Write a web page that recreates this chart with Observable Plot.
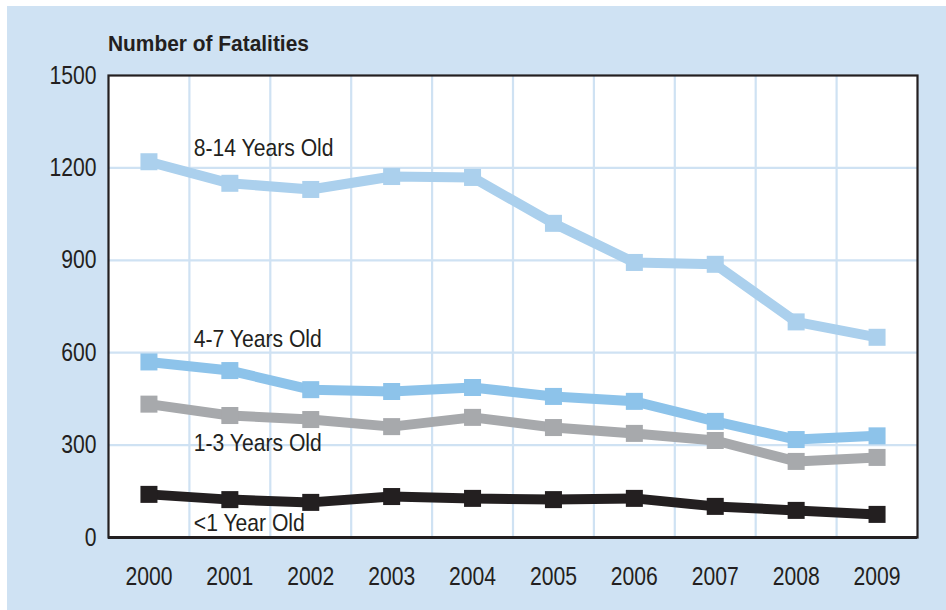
<!DOCTYPE html>
<html>
<head>
<meta charset="utf-8">
<script src="https://cdn.jsdelivr.net/npm/d3@7"></script>
<script src="https://cdn.jsdelivr.net/npm/@observablehq/plot@0.6"></script>
<style>
  html, body { margin: 0; padding: 0; background: #ffffff; }
  #wrap { position: relative; width: 946px; height: 610px; overflow: hidden; }
  #panel { position: absolute; left: 7px; top: 6px; width: 939px; height: 604px; background: #cfe2f3; }
  #title { position: absolute; left: 108px; top: 31px; font-family: "Liberation Sans", Arial, sans-serif; font-weight: bold; font-size: 22px; color: #231f20; transform: scaleX(0.95); transform-origin: left center; white-space: nowrap; }
  #chart { position: absolute; left: 0; top: 60px; }
</style>
</head>
<body>
<div id="wrap">
  <div id="panel"></div>
  <div id="title">Number of Fatalities</div>
  <div id="chart"></div>
</div>
<script>
const years = [2000, 2001, 2002, 2003, 2004, 2005, 2006, 2007, 2008, 2009];
const age8to14 = [1220, 1150, 1130, 1172, 1169, 1020, 893, 887, 700, 650];
const age4to7  = [570, 542, 480, 474, 487, 458, 442, 377, 318, 330];
const age1to3  = [433, 396, 383, 360, 390, 357, 338, 315, 247, 260];
const ageUnder1 = [140, 123, 114, 133, 127, 123, 127, 101, 88, 75];
const yTicks = [0, 300, 600, 900, 1200, 1500];
const seriesNames = ["8-14 Years Old", "4-7 Years Old", "1-3 Years Old", "<1 Year Old"];
const seriesColors = ["#abd0ed", "#8dc3ea", "#a7a9ac", "#231f20"];
const labelYear = [2001, 2001, 2001, 2001];
const labelValue = [1262, 643, 305, 45];

const seriesValues = [age8to14, age4to7, age1to3, ageUnder1];
const rows = [];
seriesNames.forEach((name, i) => {
  years.forEach((yr, j) => rows.push({series: name, year: yr, value: seriesValues[i][j]}));
});
const labels = seriesNames.map((name, i) => ({series: name, year: labelYear[i], value: labelValue[i]}));
const gridX = years.slice(0, -1).map(y => y + 0.5);
const colorOf = Object.fromEntries(seriesNames.map((n, i) => [n, seriesColors[i]]));

const font = '"Liberation Sans", Arial, sans-serif';

const chart = Plot.plot({
  width: 946,
  height: 550,
  marginLeft: 108,
  marginRight: 29,
  marginTop: 15,
  marginBottom: 73,
  style: { background: "transparent", fontFamily: font, color: "#231f20", overflow: "visible" },
  x: { domain: [1999.5, 2009.5], label: null },
  y: { domain: [0, 1500], label: null },
  marks: [
    Plot.frame({ fill: "white", stroke: "none" }),
    Plot.ruleY(yTicks.slice(1, -1), { stroke: "#cfe2f3", strokeWidth: 2.2 }),
    Plot.ruleX(gridX, { stroke: "#cfe2f3", strokeWidth: 2.2 }),
    Plot.axisX({ ticks: years, tickFormat: d => String(d), tickSize: 0, tickPadding: 30, fontSize: 25, fill: "#231f20", label: null, className: "sq-tick" }),
    Plot.axisY({ ticks: yTicks, tickFormat: d => String(d), tickSize: 0, tickPadding: 12, fontSize: 25, fill: "#231f20", label: null, className: "sq-tick" }),
    ...seriesNames.map(name => Plot.line(rows.filter(d => d.series === name), {
      x: "year", y: "value", stroke: colorOf[name], strokeWidth: 10, strokeLinejoin: "miter", strokeLinecap: "butt"
    })),
    ...seriesNames.map(name => Plot.dot(rows.filter(d => d.series === name), {
      x: "year", y: "value", symbol: "square", r: 9.6, fill: colorOf[name], stroke: "none"
    })),
    Plot.text(labels, {
      x: "year", y: "value", text: "series", textAnchor: "start", dx: -36,
      fontSize: 24, fill: "#231f20", fontFamily: font, className: "sq-label"
    }),
    Plot.frame({ stroke: "#231f20", strokeWidth: 2.2 }),
    Plot.ruleY([0], { stroke: "#231f20", strokeWidth: 3 })
  ]
});
document.getElementById("chart").appendChild(chart);

// Condense text horizontally to mimic the reference's narrow typeface
function condense(selector, k) {
  chart.querySelectorAll(selector).forEach(t => {
    const tr = t.getAttribute("transform");
    if (tr) {
      t.setAttribute("transform", tr + ` scale(${k} 1)`);
    } else {
      const x = +(t.getAttribute("x") || 0);
      t.setAttribute("transform", `translate(${x * (1 - k)} 0) scale(${k} 1)`);
    }
  });
}
condense(".sq-tick text", 0.845);
condense(".sq-label text", 0.88);
</script>
</body>
</html>
